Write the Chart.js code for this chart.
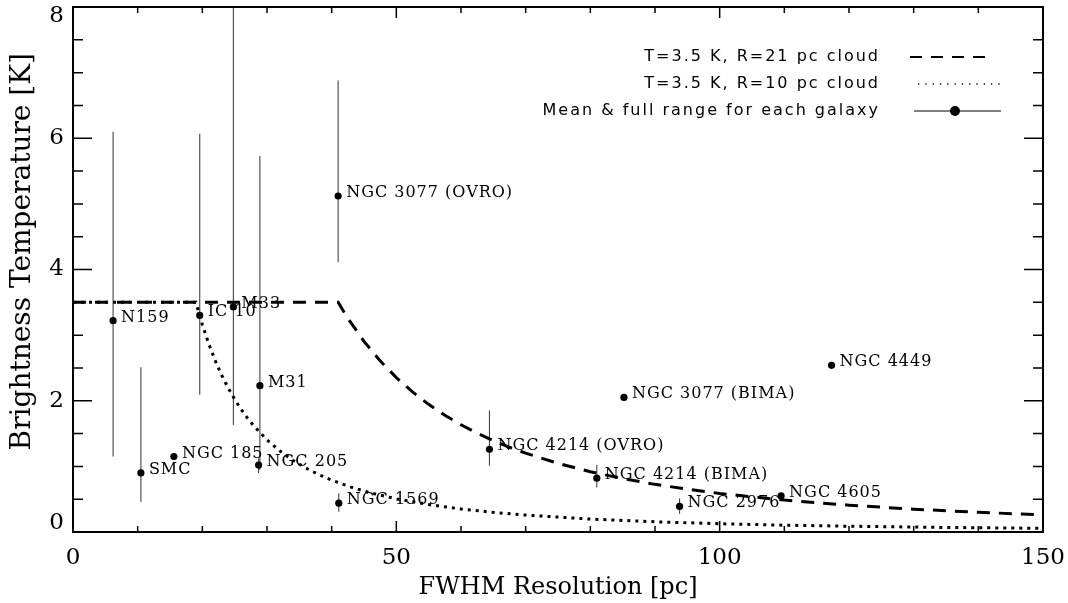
<!DOCTYPE html>
<html><head><meta charset="utf-8">
<script src="https://cdn.jsdelivr.net/npm/chart.js@4"></script>
<style>html,body{margin:0;padding:0;background:#fff;}#wrap{width:1068px;height:603px;position:relative;}</style>
</head><body><div id="wrap"><canvas id="c"></canvas></div>
<script>
// ---- data ----
const galaxies = ['N159','IC 10','M33','M31','SMC','NGC 185','NGC 205','NGC 1569','NGC 3077 (OVRO)','NGC 4214 (OVRO)','NGC 4214 (BIMA)','NGC 3077 (BIMA)','NGC 4449','NGC 2976','NGC 4605'];
const fwhm  = [6.2, 19.6, 24.8, 28.9, 10.5, 15.6, 28.7, 41.1, 41.0, 64.4, 81.0, 85.2, 117.3, 93.8, 109.5];
const tMean = [3.22, 3.30, 3.43, 2.23, 0.90, 1.15, 1.02, 0.44, 5.12, 1.26, 0.82, 2.05, 2.54, 0.39, 0.55];
const tMin  = [1.15, 2.09, 1.63, 0.95, 0.46, 1.15, 0.90, 0.31, 4.11, 1.01, 0.68, 2.05, 2.54, 0.28, 0.50];
const tMax  = [6.10, 6.07, 9.50, 5.73, 2.51, 1.15, 1.12, 0.59, 6.88, 1.85, 1.02, 2.05, 2.54, 0.51, 0.60];

const cloud21X = [0, 41, 42.5, 45, 47.5, 50, 52.5, 55, 57.5, 60, 62.5, 65, 67.5, 70, 75, 80, 85, 90, 95, 100, 110, 120, 130, 140, 150];
const cloud21T = [3.5, 3.5, 3.257, 2.905, 2.608, 2.353, 2.135, 1.945, 1.780, 1.634, 1.506, 1.393, 1.291, 1.201, 1.046, 0.919, 0.814, 0.726, 0.652, 0.588, 0.486, 0.409, 0.348, 0.300, 0.261];
const cloud10X = [0, 19, 20, 21, 22, 23, 24, 25, 26, 27, 28, 30, 32, 34, 36, 38, 40, 43, 46, 50, 55, 60, 65, 70, 80, 90, 100, 110, 120, 135, 150];
const cloud10T = [3.5, 3.5, 3.159, 2.865, 2.611, 2.388, 2.194, 2.022, 1.869, 1.733, 1.612, 1.404, 1.234, 1.093, 0.975, 0.875, 0.790, 0.683, 0.597, 0.505, 0.418, 0.351, 0.299, 0.258, 0.197, 0.156, 0.126, 0.104, 0.088, 0.069, 0.056];

const xMajorTicks = [0, 50, 100, 150];
const xMinorTicks = [10, 20, 30, 40, 60, 70, 80, 90, 110, 120, 130, 140];
const yMajorTicks = [0, 2, 4, 6, 8];
const yMinorTicks = [0.5, 1, 1.5, 2.5, 3, 3.5, 4.5, 5, 5.5, 6.5, 7, 7.5];

const legendLabels = ['T=3.5 K, R=21 pc cloud', 'T=3.5 K, R=10 pc cloud', 'Mean & full range for each galaxy'];
const xTitle = 'FWHM Resolution [pc]';
const yTitle = 'Brightness Temperature [K]';

// ---- build datasets ----
const errData = [];
fwhm.forEach((x, i) => { errData.push({x: x, y: tMin[i]}, {x: x, y: tMax[i]}, {x: x, y: null}); });
const meanData = fwhm.map((x, i) => ({x: x, y: tMean[i]}));
const c21 = cloud21X.map((x, i) => ({x: x, y: cloud21T[i]}));
const c10 = cloud10X.map((x, i) => ({x: x, y: cloud10T[i]}));

const SERIF = '"DejaVu Serif", serif';
const SANS = '"DejaVu Sans", sans-serif';

const framePlugin = {
  id: 'frameTicks',
  afterDraw(chart) {
    const {ctx, chartArea: a, scales: {x, y}} = chart;
    ctx.save();
    ctx.strokeStyle = '#000';
    ctx.lineWidth = 2;
    ctx.strokeRect(a.left, a.top, a.right - a.left, a.bottom - a.top);
    ctx.lineWidth = 1.5;
    ctx.beginPath();
    const xt = (v, len) => { const p = x.getPixelForValue(v); ctx.moveTo(p, a.bottom); ctx.lineTo(p, a.bottom - len); ctx.moveTo(p, a.top); ctx.lineTo(p, a.top + len); };
    const yt = (v, len) => { const p = y.getPixelForValue(v); ctx.moveTo(a.left, p); ctx.lineTo(a.left + len, p); ctx.moveTo(a.right, p); ctx.lineTo(a.right - len, p); };
    xMajorTicks.forEach(v => xt(v, 11));
    xMinorTicks.forEach(v => xt(v, 6));
    yMajorTicks.forEach(v => yt(v, 19));
    yMinorTicks.forEach(v => yt(v, 10));
    ctx.stroke();
    ctx.restore();
  }
};

const labelPlugin = {
  id: 'pointLabels',
  afterDatasetsDraw(chart) {
    const {ctx, scales: {x, y}} = chart;
    ctx.save();
    ctx.fillStyle = '#000';
    ctx.font = '16px ' + SERIF;
    ctx.letterSpacing = '1px';
    ctx.textAlign = 'left';
    ctx.textBaseline = 'alphabetic';
    galaxies.forEach((g, i) => {
      ctx.fillText(g, x.getPixelForValue(fwhm[i]) + 8, y.getPixelForValue(tMean[i]) + 1);
    });
    // legend
    ctx.font = '16px ' + SANS;
    ctx.letterSpacing = '2px';
    ctx.textAlign = 'right';
    ctx.textBaseline = 'middle';
    const rows = [57, 84, 111];
    legendLabels.forEach((t, i) => ctx.fillText(t, 880, rows[i]));
    ctx.letterSpacing = '0px';
    ctx.strokeStyle = '#000';
    ctx.lineCap = 'butt';
    ctx.lineWidth = 2;
    ctx.setLineDash([12, 9]);
    ctx.beginPath(); ctx.moveTo(910, rows[0]); ctx.lineTo(992, rows[0]); ctx.stroke();
    ctx.lineWidth = 1.3;
    ctx.setLineDash([1.3, 6]);
    ctx.beginPath(); ctx.moveTo(918, rows[1]); ctx.lineTo(1002, rows[1]); ctx.stroke();
    ctx.setLineDash([]);
    ctx.lineWidth = 1;
    ctx.beginPath(); ctx.moveTo(914, rows[2]); ctx.lineTo(1001, rows[2]); ctx.stroke();
    ctx.beginPath(); ctx.arc(955, rows[2], 5, 0, Math.PI * 2); ctx.fill();
    ctx.restore();
  }
};

new Chart(document.getElementById('c'), {
  type: 'scatter',
  data: {
    datasets: [
      {label: 'err', data: errData, showLine: true, spanGaps: false, pointRadius: 0, borderColor: '#444', borderWidth: 1.1, order: 3},
      {label: legendLabels[0], data: c21, showLine: true, pointRadius: 0, borderColor: '#000', borderWidth: 3, borderDash: [13, 9], tension: 0, order: 2},
      {label: legendLabels[1], data: c10, showLine: true, pointRadius: 0, borderColor: '#000', borderWidth: 3, borderDash: [3, 5], tension: 0, order: 2},
      {label: legendLabels[2], data: meanData, showLine: false, pointRadius: 3.6, pointBackgroundColor: '#000', pointBorderColor: '#000', pointBorderWidth: 0, order: 1}
    ]
  },
  options: {
    responsive: true, maintainAspectRatio: false, animation: false, devicePixelRatio: 1,
    layout: {padding: {top: 7, right: 25, left: 0, bottom: 0}},
    plugins: {legend: {display: false}, tooltip: {enabled: false}},
    scales: {
      x: {
        type: 'linear', min: 0, max: 150,
        grid: {display: false, drawTicks: false}, border: {display: false},
        ticks: {stepSize: 50, color: '#000', font: {family: SERIF, size: 23}, padding: 12, maxRotation: 0},
        title: {display: true, text: xTitle, color: '#000', font: {family: SERIF, size: 24}, padding: {top: 0, bottom: 1}},
        afterFit(s) { s.height = 71; s.paddingLeft = 0; s.paddingRight = 0; }
      },
      y: {
        type: 'linear', min: 0, max: 8,
        grid: {display: false, drawTicks: false}, border: {display: false},
        ticks: {
          stepSize: 2, color: '#000', padding: 9,
          font: (ctx) => ({family: SERIF, size: 23, lineHeight: (ctx.tick && (ctx.tick.value === 8 || ctx.tick.value === 0)) ? '18px' : 1.2}),
          callback: (v) => v === 8 ? ['', '8'] : (v === 0 ? ['0', ''] : String(v))
        },
        title: {display: true, text: '    ' + yTitle, color: '#000', font: {family: SERIF, size: 28}, padding: {top: 6, bottom: 0}},
        afterFit(s) { s.width = 73; s.paddingTop = 0; s.paddingBottom = 0; }
      }
    }
  },
  plugins: [framePlugin, labelPlugin]
});
</script></body></html>
